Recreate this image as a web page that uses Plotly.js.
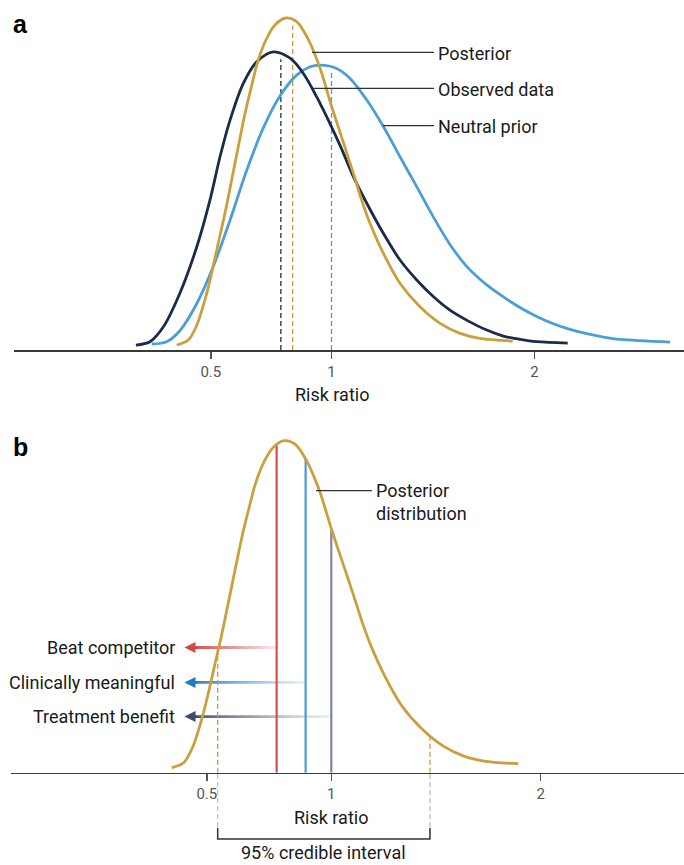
<!DOCTYPE html>
<html>
<head>
<meta charset="utf-8">
<script src="https://cdn.plot.ly/plotly-3.0.1.min.js"></script>
<style>html,body{margin:0;padding:0;background:#fff}#chart{width:684px;height:865px}</style>
</head>
<body>
<div id="chart"></div>
<script>
// ---------------- DATA (risk ratio on x, relative density on y) ----------------
const posteriorRR = [0.376,0.417,0.448,0.478,0.503,0.528,0.554,0.580,0.606,0.633,0.660,0.686,0.721,0.755,0.800,0.847,0.894,0.949,1.001,1.053,1.099,1.137,1.176,1.239,1.318,1.415,1.514,1.614,1.715,1.885];
const posteriorDensity = [0.015,0.030,0.075,0.151,0.231,0.321,0.412,0.512,0.612,0.713,0.798,0.873,0.939,0.979,1.000,0.989,0.940,0.849,0.733,0.626,0.532,0.452,0.382,0.291,0.201,0.130,0.080,0.050,0.035,0.027];

const observedRR = [0.240,0.285,0.330,0.387,0.448,0.497,0.535,0.574,0.626,0.680,0.748,0.819,0.876,0.949,1.038,1.099,1.161,1.239,1.318,1.399,1.480,1.563,1.647,1.750,1.836,1.923,2.012,2.179];
const observedDensity = [0.015,0.025,0.070,0.171,0.311,0.452,0.582,0.693,0.803,0.868,0.898,0.879,0.833,0.743,0.617,0.522,0.442,0.351,0.271,0.211,0.161,0.120,0.090,0.060,0.042,0.032,0.025,0.021];

const priorRR = [0.291,0.341,0.387,0.448,0.510,0.574,0.640,0.707,0.776,0.847,0.905,0.949,1.023,1.084,1.161,1.239,1.318,1.399,1.480,1.563,1.647,1.750,1.836,1.923,2.012,2.101,2.191,2.283,2.375,2.468,2.753];
const priorDensity = [0.018,0.025,0.058,0.140,0.253,0.392,0.542,0.669,0.765,0.828,0.853,0.858,0.848,0.818,0.753,0.673,0.582,0.492,0.401,0.318,0.252,0.196,0.160,0.128,0.101,0.079,0.062,0.049,0.039,0.032,0.024];

// central values marked with dashed lines in panel a
const seriesNames = ['Neutral prior','Observed data','Posterior'];
const centralRR = [1.00, 0.78, 0.83];

// decision thresholds in panel b
const thresholdLabels = ['Beat competitor','Clinically meaningful','Treatment benefit'];
const thresholdRR = [0.77, 0.89, 1.00];

// 95% credible interval of the posterior
const credibleLow = 0.54;
const credibleHigh = 1.45;

const tickValues = [0.5, 1, 2];
const tickLabels = ['0.5','1','2'];

// ---------------- SCALE ----------------
const P = 0.75;                       // axis is drawn on a power-warped scale
const tf = v => Math.pow(v, P);
function heightAt(xs, ys, rr){
  const u = tf(rr);
  for (let i = 0; i < xs.length - 1; i++){
    const a = tf(xs[i]), b = tf(xs[i+1]);
    if (u >= a && u <= b){ return ys[i] + (ys[i+1]-ys[i])*(u-a)/(b-a); }
  }
  return 0;
}

// ---------------- STYLE ----------------
const W = 684, H = 865;
const C = {gold:'#c9a03c', navy:'#1c2b4a', blue:'#4a9fd6', text:'#1a1a1a'};
const lineColors = ['#d64f4f','#4a9ad8','#7d889f'];
const arrowColors = ['#d24848','#1f7cc0','#3e4c6c'];
const arrowFade = ['rgba(214,79,79,0.12)','rgba(74,154,216,0.12)','rgba(125,136,159,0.12)'];
const arrowLevels = [0.377, 0.272, 0.169];
const arrowTipRR = 0.42;
const FONT = 'Roboto, "Open Sans", sans-serif';

const xa = {dom:[14/W, 1], rng:[-0.0665, 2.1841]};
const xb = {dom:[11/W, 1], rng:[-0.0433, 2.1489]};
const py = p => 1 - p / H;        // pixel row -> paper
const px = p => p / W;            // pixel col -> paper
const paperXb = rr => xb.dom[0] + (tf(rr) - xb.rng[0]) / (xb.rng[1] - xb.rng[0]) * (xb.dom[1] - xb.dom[0]);

const curves = [
  {x: priorRR, y: priorDensity, color: C.blue},
  {x: observedRR, y: observedDensity, color: C.navy},
  {x: posteriorRR, y: posteriorDensity, color: C.gold}
];

const traces = [];
// panel a dashed central lines
curves.forEach((c, i) => {
  const h = heightAt(c.x, c.y, centralRR[i]) * 0.985;
  traces.push({x:[tf(centralRR[i]), tf(centralRR[i])], y:[0, h], mode:'lines', xaxis:'x', yaxis:'y',
    line:{color:c.color, width:1.3, dash:'5px,3px'}, hoverinfo:'skip', showlegend:false});
});
// panel a curves
curves.forEach((c, i) => {
  traces.push({x:c.x.map(tf), y:c.y, mode:'lines', name:seriesNames[i], xaxis:'x', yaxis:'y',
    line:{color:c.color, width:2.8, shape:'spline', smoothing:0.9}, showlegend:false});
});

// panel b gradient arrows
const d = 0.0043;
thresholdRR.forEach((t, i) => {
  const x0 = tf(arrowTipRR) + 0.02, x1 = tf(t), yl = arrowLevels[i];
  traces.push({x:[x0, x1, x1, x0, x0], y:[yl-d, yl-d, yl+d, yl+d, yl-d], mode:'none', fill:'toself',
    fillcolor: arrowColors[i],
    fillgradient:{type:'horizontal', colorscale:[[0, arrowColors[i]], [1, arrowFade[i]]]},
    xaxis:'x2', yaxis:'y2', hoverinfo:'skip', showlegend:false});
});
// panel b threshold verticals
thresholdRR.forEach((t, i) => {
  const h = heightAt(posteriorRR, posteriorDensity, t);
  traces.push({x:[tf(t), tf(t)], y:[0, h], mode:'lines', name:thresholdLabels[i], xaxis:'x2', yaxis:'y2',
    line:{color:lineColors[i], width:2.2}, hoverinfo:'skip', showlegend:false});
});
// panel b credible interval dashed (above axis)
[credibleLow, credibleHigh].forEach(v => {
  const h = heightAt(posteriorRR, posteriorDensity, v);
  traces.push({x:[tf(v), tf(v)], y:[0, h], mode:'lines', xaxis:'x2', yaxis:'y2',
    line:{color:C.gold, width:1.3, dash:'5px,3px'}, hoverinfo:'skip', showlegend:false});
});
// panel b posterior
traces.push({x:posteriorRR.map(tf), y:posteriorDensity, mode:'lines', name:'Posterior distribution', xaxis:'x2', yaxis:'y2',
  line:{color:C.gold, width:2.8, shape:'spline', smoothing:0.9}, showlegend:false});

const xAxisBase = {
  showline:true, linecolor:'#3a3a3a', linewidth:1.5, ticks:'outside', ticklen:7, tickwidth:1.5, tickcolor:'#555',
  showgrid:false, zeroline:false, tickmode:'array', tickvals:tickValues.map(tf), ticktext:tickLabels,
  tickfont:{size:15, color:'#555', family:FONT}, fixedrange:true
};
const yAxisBase = {range:[0, 1.05], showline:false, showgrid:false, zeroline:false, showticklabels:false, ticks:'', fixedrange:true};

const ann = [];
const txt = (text, x, y, opts) => Object.assign({text, x, y, xref:'paper', yref:'paper', showarrow:false,
  font:{size:18, color:C.text, family:FONT}}, opts || {});
ann.push(txt('<b>a</b>', px(11), py(24), {xanchor:'left', yanchor:'middle', font:{size:25, color:'#000', family:'"Liberation Sans", Arial, sans-serif'}}));
ann.push(txt('<b>b</b>', px(11), py(447), {xanchor:'left', yanchor:'middle', font:{size:25, color:'#000', family:'"Liberation Sans", Arial, sans-serif'}}));
ann.push(txt('Posterior', px(436), py(53), {xanchor:'left', yanchor:'middle'}));
ann.push(txt('Observed data', px(436), py(89.5), {xanchor:'left', yanchor:'middle'}));
ann.push(txt('Neutral prior', px(436), py(126.5), {xanchor:'left', yanchor:'middle'}));
ann.push(txt('Posterior<br>distribution', px(374), py(502), {xanchor:'left', yanchor:'middle', align:'left'}));
ann.push(Object.assign(txt('Risk ratio', tf(1), py(394), {xanchor:'center', yanchor:'middle'}), {xref:'x'}));
ann.push(Object.assign(txt('Risk ratio', tf(1), py(817), {xanchor:'center', yanchor:'middle'}), {xref:'x2'}));
thresholdLabels.forEach((l, i) => {
  ann.push(Object.assign(txt(l, px(177), arrowLevels[i], {xanchor:'right', yanchor:'middle'}), {yref:'y2'}));
  ann.push({xref:'x2', yref:'y2', x:tf(arrowTipRR), y:arrowLevels[i], ax:14, ay:0, text:'', showarrow:true,
    arrowhead:2, arrowsize:0.85, arrowwidth:2.6, arrowcolor:arrowColors[i]});
});
ann.push(txt('95% credible interval', (paperXb(credibleLow)+paperXb(credibleHigh))/2, py(852), {xanchor:'center', yanchor:'middle'}));

const shapes = [];
const seg = (x0, y0, x1, y1, line) => ({type:'line', xref:'paper', yref:'paper', x0:px(x0), y0:py(y0), x1:px(x1), y1:py(y1), line});
const lead = {color:'#333', width:1.3};
shapes.push(seg(312, 52.3, 434, 52.3, lead));
shapes.push(seg(313, 88.3, 434, 88.3, lead));
shapes.push(seg(383, 125.7, 434, 125.7, lead));
shapes.push(seg(316, 490.7, 372, 490.7, lead));
[credibleLow, credibleHigh].forEach(v => {
  shapes.push({type:'line', xref:'paper', yref:'paper', x0:paperXb(v), x1:paperXb(v), y0:py(774), y1:py(834),
    line:{color:'#bbb', width:1.2, dash:'5px,3px'}});
});
const bl = paperXb(credibleLow), bh = paperXb(credibleHigh);
shapes.push({type:'path', xref:'paper', yref:'paper',
  path:`M ${bl} ${py(828)} L ${bl} ${py(839)} L ${bh} ${py(839)} L ${bh} ${py(828)}`, line:{color:'#333', width:1.5}});

const layout = {
  width:W, height:H, margin:{l:0, r:0, t:0, b:0}, paper_bgcolor:'#fff', plot_bgcolor:'rgba(0,0,0,0)',
  font:{family:FONT, color:C.text}, showlegend:false,
  xaxis:Object.assign({}, xAxisBase, {domain:xa.dom, range:xa.rng, anchor:'y'}),
  yaxis:Object.assign({}, yAxisBase, {domain:[py(350), py(1.4)], anchor:'x'}),
  xaxis2:Object.assign({}, xAxisBase, {domain:xb.dom, range:xb.rng, anchor:'y2'}),
  yaxis2:Object.assign({}, yAxisBase, {domain:[py(772.7), py(424.1)], anchor:'x2'}),
  annotations:ann, shapes:shapes
};

Plotly.newPlot('chart', traces, layout, {displayModeBar:false, staticPlot:true});
</script>
</body>
</html>
